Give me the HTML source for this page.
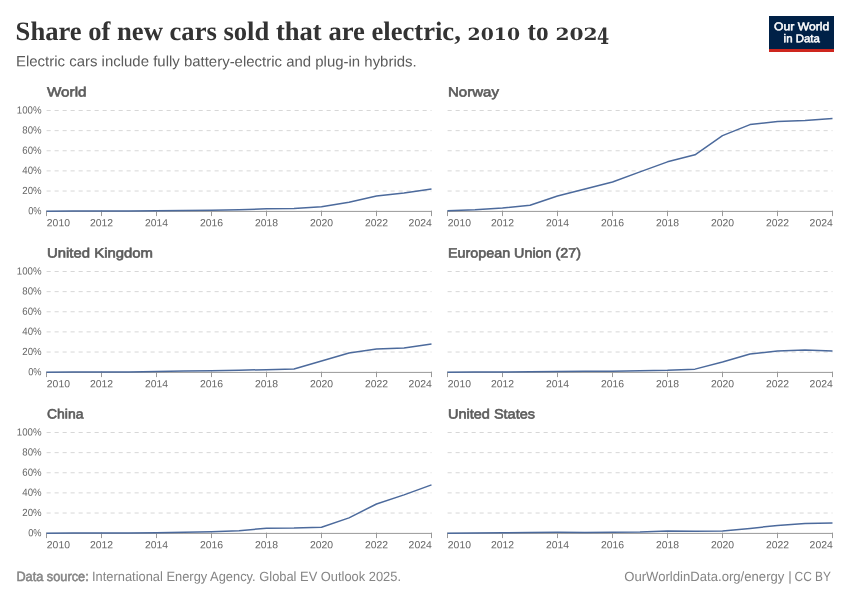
<!DOCTYPE html>
<html lang="en"><head><meta charset="utf-8"><title>Share of new cars sold that are electric, 2010 to 2024</title>
<style>html,body{margin:0;padding:0;background:#fff}svg{display:block}text{white-space:pre;text-rendering:geometricPrecision}</style></head><body>
<svg width="850" height="600" viewBox="0 0 850 600" font-family="'Liberation Sans', 'DejaVu Sans', sans-serif">
<rect width="850" height="600" fill="#fff"/>
<text y="40" fill="#333" font-family="'Liberation Serif', 'DejaVu Serif', serif" font-weight="700" font-size="26.6"><tspan x="15.6" textLength="445.2" lengthAdjust="spacingAndGlyphs">Share of new cars sold that are electric,</tspan> <tspan x="467.6" font-family="'DejaVu Serif', serif" font-size="16.9" textLength="52.4" lengthAdjust="spacingAndGlyphs">2010</tspan> <tspan x="527.5" textLength="21" lengthAdjust="spacingAndGlyphs">to</tspan> <tspan x="555.4" font-family="'DejaVu Serif', serif" font-size="16.9" textLength="42.2" lengthAdjust="spacingAndGlyphs">202</tspan><tspan x="597" y="44" font-family="'DejaVu Serif', serif" font-size="22.4" textLength="12.2" lengthAdjust="spacingAndGlyphs">4</tspan></text>
<text x="16.00" y="66.40" transform="matrix(1 0.0007 0 1 0 -0.1512)" font-size="14.8" fill="#5b5b5b" textLength="400.7" lengthAdjust="spacingAndGlyphs">Electric cars include fully battery-electric and plug-in hybrids.</text>
<rect x="769" y="16" width="65" height="36" fill="#002147"/><rect x="769" y="49" width="65" height="3" fill="#ce261e"/>
<text x="801.60" y="30.25" transform="matrix(1 0.0007 0 1 0 -0.5611)" font-size="11.3" fill="#fff" text-anchor="middle" textLength="55.2" lengthAdjust="spacingAndGlyphs" stroke="#fff" stroke-width="0.5">Our World</text>
<text x="801.70" y="42.25" transform="matrix(1 0.0007 0 1 0 -0.5612)" font-size="11.3" fill="#fff" text-anchor="middle" textLength="36.2" lengthAdjust="spacingAndGlyphs" stroke="#fff" stroke-width="0.5">in Data</text>
<text x="47.00" y="96.40" transform="matrix(1 0.0007 0 1 0 -0.0329)" font-size="13.5" fill="#5b5b5b" textLength="39.5" lengthAdjust="spacingAndGlyphs" stroke="#5b5b5b" stroke-width="0.6">World</text>
<line x1="46.6" x2="431.5" y1="191.02" y2="191.02" stroke="#d7d7d7" stroke-dasharray="4.1,3.9"/>
<text x="41.60" y="194.02" transform="matrix(1 0.0007 0 1 0 -0.0291)" font-size="10.3" fill="#666" text-anchor="end" textLength="19.3" lengthAdjust="spacingAndGlyphs">20%</text>
<line x1="46.6" x2="431.5" y1="170.89" y2="170.89" stroke="#d7d7d7" stroke-dasharray="4.1,3.9"/>
<text x="41.60" y="173.89" transform="matrix(1 0.0007 0 1 0 -0.0291)" font-size="10.3" fill="#666" text-anchor="end" textLength="19.3" lengthAdjust="spacingAndGlyphs">40%</text>
<line x1="46.6" x2="431.5" y1="150.76" y2="150.76" stroke="#d7d7d7" stroke-dasharray="4.1,3.9"/>
<text x="41.60" y="153.76" transform="matrix(1 0.0007 0 1 0 -0.0291)" font-size="10.3" fill="#666" text-anchor="end" textLength="19.3" lengthAdjust="spacingAndGlyphs">60%</text>
<line x1="46.6" x2="431.5" y1="130.63" y2="130.63" stroke="#d7d7d7" stroke-dasharray="4.1,3.9"/>
<text x="41.60" y="133.63" transform="matrix(1 0.0007 0 1 0 -0.0291)" font-size="10.3" fill="#666" text-anchor="end" textLength="19.3" lengthAdjust="spacingAndGlyphs">80%</text>
<line x1="46.6" x2="431.5" y1="110.50" y2="110.50" stroke="#d7d7d7" stroke-dasharray="4.1,3.9"/>
<text x="41.60" y="113.50" transform="matrix(1 0.0007 0 1 0 -0.0291)" font-size="10.3" fill="#666" text-anchor="end" textLength="24.8" lengthAdjust="spacingAndGlyphs">100%</text>
<text x="41.60" y="214.15" transform="matrix(1 0.0007 0 1 0 -0.0291)" font-size="10.3" fill="#666" text-anchor="end" textLength="13.4" lengthAdjust="spacingAndGlyphs">0%</text>
<line x1="46.0" x2="432.0" y1="211.40" y2="211.40" stroke="#999"/>
<line x1="46.50" x2="46.50" y1="210.70" y2="216.10" stroke="#999"/>
<text x="46.80" y="226.25" transform="matrix(1 0.0007 0 1 0 -0.0328)" font-size="10.3" fill="#666" textLength="23.2" lengthAdjust="spacingAndGlyphs">2010</text>
<line x1="101.50" x2="101.50" y1="210.70" y2="216.10" stroke="#999"/>
<text x="101.50" y="226.25" transform="matrix(1 0.0007 0 1 0 -0.0711)" font-size="10.3" fill="#666" text-anchor="middle" textLength="23.2" lengthAdjust="spacingAndGlyphs">2012</text>
<line x1="156.50" x2="156.50" y1="210.70" y2="216.10" stroke="#999"/>
<text x="156.50" y="226.25" transform="matrix(1 0.0007 0 1 0 -0.1095)" font-size="10.3" fill="#666" text-anchor="middle" textLength="23.2" lengthAdjust="spacingAndGlyphs">2014</text>
<line x1="211.50" x2="211.50" y1="210.70" y2="216.10" stroke="#999"/>
<text x="211.50" y="226.25" transform="matrix(1 0.0007 0 1 0 -0.1480)" font-size="10.3" fill="#666" text-anchor="middle" textLength="23.2" lengthAdjust="spacingAndGlyphs">2016</text>
<line x1="266.50" x2="266.50" y1="210.70" y2="216.10" stroke="#999"/>
<text x="266.50" y="226.25" transform="matrix(1 0.0007 0 1 0 -0.1865)" font-size="10.3" fill="#666" text-anchor="middle" textLength="23.2" lengthAdjust="spacingAndGlyphs">2018</text>
<line x1="321.50" x2="321.50" y1="210.70" y2="216.10" stroke="#999"/>
<text x="321.50" y="226.25" transform="matrix(1 0.0007 0 1 0 -0.2251)" font-size="10.3" fill="#666" text-anchor="middle" textLength="23.2" lengthAdjust="spacingAndGlyphs">2020</text>
<line x1="376.50" x2="376.50" y1="210.70" y2="216.10" stroke="#999"/>
<text x="376.50" y="226.25" transform="matrix(1 0.0007 0 1 0 -0.2636)" font-size="10.3" fill="#666" text-anchor="middle" textLength="23.2" lengthAdjust="spacingAndGlyphs">2022</text>
<line x1="431.50" x2="431.50" y1="210.70" y2="216.10" stroke="#999"/>
<text x="431.80" y="226.25" transform="matrix(1 0.0007 0 1 0 -0.3023)" font-size="10.3" fill="#666" text-anchor="end" textLength="23.2" lengthAdjust="spacingAndGlyphs">2024</text>
<polyline points="46.50,211.14 74.00,211.08 101.50,210.98 129.00,210.90 156.50,210.75 184.00,210.45 211.50,210.24 239.00,209.74 266.50,208.84 294.00,208.53 321.50,206.82 349.00,202.19 376.50,196.05 404.00,193.03 431.50,189.01" fill="none" stroke="#4c6a9c" stroke-width="1.5" stroke-linejoin="round"/>
<text x="448.00" y="96.40" transform="matrix(1 0.0007 0 1 0 -0.3136)" font-size="13.5" fill="#5b5b5b" textLength="51" lengthAdjust="spacingAndGlyphs" stroke="#5b5b5b" stroke-width="0.6">Norway</text>
<line x1="447.6" x2="832.5" y1="191.02" y2="191.02" stroke="#d7d7d7" stroke-dasharray="4.1,3.9"/>
<line x1="447.6" x2="832.5" y1="170.89" y2="170.89" stroke="#d7d7d7" stroke-dasharray="4.1,3.9"/>
<line x1="447.6" x2="832.5" y1="150.76" y2="150.76" stroke="#d7d7d7" stroke-dasharray="4.1,3.9"/>
<line x1="447.6" x2="832.5" y1="130.63" y2="130.63" stroke="#d7d7d7" stroke-dasharray="4.1,3.9"/>
<line x1="447.6" x2="832.5" y1="110.50" y2="110.50" stroke="#d7d7d7" stroke-dasharray="4.1,3.9"/>
<line x1="447.0" x2="833.0" y1="211.40" y2="211.40" stroke="#999"/>
<line x1="447.50" x2="447.50" y1="210.70" y2="216.10" stroke="#999"/>
<text x="447.80" y="226.25" transform="matrix(1 0.0007 0 1 0 -0.3135)" font-size="10.3" fill="#666" textLength="23.2" lengthAdjust="spacingAndGlyphs">2010</text>
<line x1="502.50" x2="502.50" y1="210.70" y2="216.10" stroke="#999"/>
<text x="502.50" y="226.25" transform="matrix(1 0.0007 0 1 0 -0.3518)" font-size="10.3" fill="#666" text-anchor="middle" textLength="23.2" lengthAdjust="spacingAndGlyphs">2012</text>
<line x1="557.50" x2="557.50" y1="210.70" y2="216.10" stroke="#999"/>
<text x="557.50" y="226.25" transform="matrix(1 0.0007 0 1 0 -0.3902)" font-size="10.3" fill="#666" text-anchor="middle" textLength="23.2" lengthAdjust="spacingAndGlyphs">2014</text>
<line x1="612.50" x2="612.50" y1="210.70" y2="216.10" stroke="#999"/>
<text x="612.50" y="226.25" transform="matrix(1 0.0007 0 1 0 -0.4288)" font-size="10.3" fill="#666" text-anchor="middle" textLength="23.2" lengthAdjust="spacingAndGlyphs">2016</text>
<line x1="667.50" x2="667.50" y1="210.70" y2="216.10" stroke="#999"/>
<text x="667.50" y="226.25" transform="matrix(1 0.0007 0 1 0 -0.4672)" font-size="10.3" fill="#666" text-anchor="middle" textLength="23.2" lengthAdjust="spacingAndGlyphs">2018</text>
<line x1="722.50" x2="722.50" y1="210.70" y2="216.10" stroke="#999"/>
<text x="722.50" y="226.25" transform="matrix(1 0.0007 0 1 0 -0.5058)" font-size="10.3" fill="#666" text-anchor="middle" textLength="23.2" lengthAdjust="spacingAndGlyphs">2020</text>
<line x1="777.50" x2="777.50" y1="210.70" y2="216.10" stroke="#999"/>
<text x="777.50" y="226.25" transform="matrix(1 0.0007 0 1 0 -0.5443)" font-size="10.3" fill="#666" text-anchor="middle" textLength="23.2" lengthAdjust="spacingAndGlyphs">2022</text>
<line x1="832.50" x2="832.50" y1="210.70" y2="216.10" stroke="#999"/>
<text x="832.80" y="226.25" transform="matrix(1 0.0007 0 1 0 -0.5830)" font-size="10.3" fill="#666" text-anchor="end" textLength="23.2" lengthAdjust="spacingAndGlyphs">2024</text>
<polyline points="447.50,210.85 475.00,209.74 502.50,207.93 530.00,205.31 557.50,196.05 585.00,189.01 612.50,181.96 640.00,171.90 667.50,161.83 695.00,154.79 722.50,135.66 750.00,124.59 777.50,121.57 805.00,120.57 832.50,118.55" fill="none" stroke="#4c6a9c" stroke-width="1.5" stroke-linejoin="round"/>
<text x="47.00" y="257.40" transform="matrix(1 0.0007 0 1 0 -0.0329)" font-size="13.5" fill="#5b5b5b" textLength="106" lengthAdjust="spacingAndGlyphs" stroke="#5b5b5b" stroke-width="0.6">United Kingdom</text>
<line x1="46.6" x2="431.5" y1="352.02" y2="352.02" stroke="#d7d7d7" stroke-dasharray="4.1,3.9"/>
<text x="41.60" y="355.02" transform="matrix(1 0.0007 0 1 0 -0.0291)" font-size="10.3" fill="#666" text-anchor="end" textLength="19.3" lengthAdjust="spacingAndGlyphs">20%</text>
<line x1="46.6" x2="431.5" y1="331.89" y2="331.89" stroke="#d7d7d7" stroke-dasharray="4.1,3.9"/>
<text x="41.60" y="334.89" transform="matrix(1 0.0007 0 1 0 -0.0291)" font-size="10.3" fill="#666" text-anchor="end" textLength="19.3" lengthAdjust="spacingAndGlyphs">40%</text>
<line x1="46.6" x2="431.5" y1="311.76" y2="311.76" stroke="#d7d7d7" stroke-dasharray="4.1,3.9"/>
<text x="41.60" y="314.76" transform="matrix(1 0.0007 0 1 0 -0.0291)" font-size="10.3" fill="#666" text-anchor="end" textLength="19.3" lengthAdjust="spacingAndGlyphs">60%</text>
<line x1="46.6" x2="431.5" y1="291.63" y2="291.63" stroke="#d7d7d7" stroke-dasharray="4.1,3.9"/>
<text x="41.60" y="294.63" transform="matrix(1 0.0007 0 1 0 -0.0291)" font-size="10.3" fill="#666" text-anchor="end" textLength="19.3" lengthAdjust="spacingAndGlyphs">80%</text>
<line x1="46.6" x2="431.5" y1="271.50" y2="271.50" stroke="#d7d7d7" stroke-dasharray="4.1,3.9"/>
<text x="41.60" y="274.50" transform="matrix(1 0.0007 0 1 0 -0.0291)" font-size="10.3" fill="#666" text-anchor="end" textLength="24.8" lengthAdjust="spacingAndGlyphs">100%</text>
<text x="41.60" y="375.15" transform="matrix(1 0.0007 0 1 0 -0.0291)" font-size="10.3" fill="#666" text-anchor="end" textLength="13.4" lengthAdjust="spacingAndGlyphs">0%</text>
<line x1="46.0" x2="432.0" y1="372.40" y2="372.40" stroke="#999"/>
<line x1="46.50" x2="46.50" y1="371.70" y2="377.10" stroke="#999"/>
<text x="46.80" y="387.25" transform="matrix(1 0.0007 0 1 0 -0.0328)" font-size="10.3" fill="#666" textLength="23.2" lengthAdjust="spacingAndGlyphs">2010</text>
<line x1="101.50" x2="101.50" y1="371.70" y2="377.10" stroke="#999"/>
<text x="101.50" y="387.25" transform="matrix(1 0.0007 0 1 0 -0.0711)" font-size="10.3" fill="#666" text-anchor="middle" textLength="23.2" lengthAdjust="spacingAndGlyphs">2012</text>
<line x1="156.50" x2="156.50" y1="371.70" y2="377.10" stroke="#999"/>
<text x="156.50" y="387.25" transform="matrix(1 0.0007 0 1 0 -0.1095)" font-size="10.3" fill="#666" text-anchor="middle" textLength="23.2" lengthAdjust="spacingAndGlyphs">2014</text>
<line x1="211.50" x2="211.50" y1="371.70" y2="377.10" stroke="#999"/>
<text x="211.50" y="387.25" transform="matrix(1 0.0007 0 1 0 -0.1480)" font-size="10.3" fill="#666" text-anchor="middle" textLength="23.2" lengthAdjust="spacingAndGlyphs">2016</text>
<line x1="266.50" x2="266.50" y1="371.70" y2="377.10" stroke="#999"/>
<text x="266.50" y="387.25" transform="matrix(1 0.0007 0 1 0 -0.1865)" font-size="10.3" fill="#666" text-anchor="middle" textLength="23.2" lengthAdjust="spacingAndGlyphs">2018</text>
<line x1="321.50" x2="321.50" y1="371.70" y2="377.10" stroke="#999"/>
<text x="321.50" y="387.25" transform="matrix(1 0.0007 0 1 0 -0.2251)" font-size="10.3" fill="#666" text-anchor="middle" textLength="23.2" lengthAdjust="spacingAndGlyphs">2020</text>
<line x1="376.50" x2="376.50" y1="371.70" y2="377.10" stroke="#999"/>
<text x="376.50" y="387.25" transform="matrix(1 0.0007 0 1 0 -0.2636)" font-size="10.3" fill="#666" text-anchor="middle" textLength="23.2" lengthAdjust="spacingAndGlyphs">2022</text>
<line x1="431.50" x2="431.50" y1="371.70" y2="377.10" stroke="#999"/>
<text x="431.80" y="387.25" transform="matrix(1 0.0007 0 1 0 -0.3023)" font-size="10.3" fill="#666" text-anchor="end" textLength="23.2" lengthAdjust="spacingAndGlyphs">2024</text>
<polyline points="46.50,372.14 74.00,372.08 101.50,372.05 129.00,371.95 156.50,371.55 184.00,371.04 211.50,370.74 239.00,370.24 266.50,369.63 294.00,369.03 321.50,361.08 349.00,353.03 376.50,349.00 404.00,347.99 431.50,343.97" fill="none" stroke="#4c6a9c" stroke-width="1.5" stroke-linejoin="round"/>
<text x="448.00" y="257.40" transform="matrix(1 0.0007 0 1 0 -0.3136)" font-size="13.5" fill="#5b5b5b" textLength="133" lengthAdjust="spacingAndGlyphs" stroke="#5b5b5b" stroke-width="0.6">European Union (27)</text>
<line x1="447.6" x2="832.5" y1="352.02" y2="352.02" stroke="#d7d7d7" stroke-dasharray="4.1,3.9"/>
<line x1="447.6" x2="832.5" y1="331.89" y2="331.89" stroke="#d7d7d7" stroke-dasharray="4.1,3.9"/>
<line x1="447.6" x2="832.5" y1="311.76" y2="311.76" stroke="#d7d7d7" stroke-dasharray="4.1,3.9"/>
<line x1="447.6" x2="832.5" y1="291.63" y2="291.63" stroke="#d7d7d7" stroke-dasharray="4.1,3.9"/>
<line x1="447.6" x2="832.5" y1="271.50" y2="271.50" stroke="#d7d7d7" stroke-dasharray="4.1,3.9"/>
<line x1="447.0" x2="833.0" y1="372.40" y2="372.40" stroke="#999"/>
<line x1="447.50" x2="447.50" y1="371.70" y2="377.10" stroke="#999"/>
<text x="447.80" y="387.25" transform="matrix(1 0.0007 0 1 0 -0.3135)" font-size="10.3" fill="#666" textLength="23.2" lengthAdjust="spacingAndGlyphs">2010</text>
<line x1="502.50" x2="502.50" y1="371.70" y2="377.10" stroke="#999"/>
<text x="502.50" y="387.25" transform="matrix(1 0.0007 0 1 0 -0.3518)" font-size="10.3" fill="#666" text-anchor="middle" textLength="23.2" lengthAdjust="spacingAndGlyphs">2012</text>
<line x1="557.50" x2="557.50" y1="371.70" y2="377.10" stroke="#999"/>
<text x="557.50" y="387.25" transform="matrix(1 0.0007 0 1 0 -0.3902)" font-size="10.3" fill="#666" text-anchor="middle" textLength="23.2" lengthAdjust="spacingAndGlyphs">2014</text>
<line x1="612.50" x2="612.50" y1="371.70" y2="377.10" stroke="#999"/>
<text x="612.50" y="387.25" transform="matrix(1 0.0007 0 1 0 -0.4288)" font-size="10.3" fill="#666" text-anchor="middle" textLength="23.2" lengthAdjust="spacingAndGlyphs">2016</text>
<line x1="667.50" x2="667.50" y1="371.70" y2="377.10" stroke="#999"/>
<text x="667.50" y="387.25" transform="matrix(1 0.0007 0 1 0 -0.4672)" font-size="10.3" fill="#666" text-anchor="middle" textLength="23.2" lengthAdjust="spacingAndGlyphs">2018</text>
<line x1="722.50" x2="722.50" y1="371.70" y2="377.10" stroke="#999"/>
<text x="722.50" y="387.25" transform="matrix(1 0.0007 0 1 0 -0.5058)" font-size="10.3" fill="#666" text-anchor="middle" textLength="23.2" lengthAdjust="spacingAndGlyphs">2020</text>
<line x1="777.50" x2="777.50" y1="371.70" y2="377.10" stroke="#999"/>
<text x="777.50" y="387.25" transform="matrix(1 0.0007 0 1 0 -0.5443)" font-size="10.3" fill="#666" text-anchor="middle" textLength="23.2" lengthAdjust="spacingAndGlyphs">2022</text>
<line x1="832.50" x2="832.50" y1="371.70" y2="377.10" stroke="#999"/>
<text x="832.80" y="387.25" transform="matrix(1 0.0007 0 1 0 -0.5830)" font-size="10.3" fill="#666" text-anchor="end" textLength="23.2" lengthAdjust="spacingAndGlyphs">2024</text>
<polyline points="447.50,372.15 475.00,372.05 502.50,371.95 530.00,371.75 557.50,371.55 585.00,371.14 612.50,371.14 640.00,370.74 667.50,370.24 695.00,369.13 722.50,362.08 750.00,354.03 777.50,351.01 805.00,350.01 832.50,351.01" fill="none" stroke="#4c6a9c" stroke-width="1.5" stroke-linejoin="round"/>
<text x="47.00" y="418.40" transform="matrix(1 0.0007 0 1 0 -0.0329)" font-size="13.5" fill="#5b5b5b" textLength="36.5" lengthAdjust="spacingAndGlyphs" stroke="#5b5b5b" stroke-width="0.6">China</text>
<line x1="46.6" x2="431.5" y1="513.02" y2="513.02" stroke="#d7d7d7" stroke-dasharray="4.1,3.9"/>
<text x="41.60" y="516.02" transform="matrix(1 0.0007 0 1 0 -0.0291)" font-size="10.3" fill="#666" text-anchor="end" textLength="19.3" lengthAdjust="spacingAndGlyphs">20%</text>
<line x1="46.6" x2="431.5" y1="492.89" y2="492.89" stroke="#d7d7d7" stroke-dasharray="4.1,3.9"/>
<text x="41.60" y="495.89" transform="matrix(1 0.0007 0 1 0 -0.0291)" font-size="10.3" fill="#666" text-anchor="end" textLength="19.3" lengthAdjust="spacingAndGlyphs">40%</text>
<line x1="46.6" x2="431.5" y1="472.76" y2="472.76" stroke="#d7d7d7" stroke-dasharray="4.1,3.9"/>
<text x="41.60" y="475.76" transform="matrix(1 0.0007 0 1 0 -0.0291)" font-size="10.3" fill="#666" text-anchor="end" textLength="19.3" lengthAdjust="spacingAndGlyphs">60%</text>
<line x1="46.6" x2="431.5" y1="452.63" y2="452.63" stroke="#d7d7d7" stroke-dasharray="4.1,3.9"/>
<text x="41.60" y="455.63" transform="matrix(1 0.0007 0 1 0 -0.0291)" font-size="10.3" fill="#666" text-anchor="end" textLength="19.3" lengthAdjust="spacingAndGlyphs">80%</text>
<line x1="46.6" x2="431.5" y1="432.50" y2="432.50" stroke="#d7d7d7" stroke-dasharray="4.1,3.9"/>
<text x="41.60" y="435.50" transform="matrix(1 0.0007 0 1 0 -0.0291)" font-size="10.3" fill="#666" text-anchor="end" textLength="24.8" lengthAdjust="spacingAndGlyphs">100%</text>
<text x="41.60" y="536.15" transform="matrix(1 0.0007 0 1 0 -0.0291)" font-size="10.3" fill="#666" text-anchor="end" textLength="13.4" lengthAdjust="spacingAndGlyphs">0%</text>
<line x1="46.0" x2="432.0" y1="533.40" y2="533.40" stroke="#999"/>
<line x1="46.50" x2="46.50" y1="532.70" y2="538.10" stroke="#999"/>
<text x="46.80" y="548.25" transform="matrix(1 0.0007 0 1 0 -0.0328)" font-size="10.3" fill="#666" textLength="23.2" lengthAdjust="spacingAndGlyphs">2010</text>
<line x1="101.50" x2="101.50" y1="532.70" y2="538.10" stroke="#999"/>
<text x="101.50" y="548.25" transform="matrix(1 0.0007 0 1 0 -0.0711)" font-size="10.3" fill="#666" text-anchor="middle" textLength="23.2" lengthAdjust="spacingAndGlyphs">2012</text>
<line x1="156.50" x2="156.50" y1="532.70" y2="538.10" stroke="#999"/>
<text x="156.50" y="548.25" transform="matrix(1 0.0007 0 1 0 -0.1095)" font-size="10.3" fill="#666" text-anchor="middle" textLength="23.2" lengthAdjust="spacingAndGlyphs">2014</text>
<line x1="211.50" x2="211.50" y1="532.70" y2="538.10" stroke="#999"/>
<text x="211.50" y="548.25" transform="matrix(1 0.0007 0 1 0 -0.1480)" font-size="10.3" fill="#666" text-anchor="middle" textLength="23.2" lengthAdjust="spacingAndGlyphs">2016</text>
<line x1="266.50" x2="266.50" y1="532.70" y2="538.10" stroke="#999"/>
<text x="266.50" y="548.25" transform="matrix(1 0.0007 0 1 0 -0.1865)" font-size="10.3" fill="#666" text-anchor="middle" textLength="23.2" lengthAdjust="spacingAndGlyphs">2018</text>
<line x1="321.50" x2="321.50" y1="532.70" y2="538.10" stroke="#999"/>
<text x="321.50" y="548.25" transform="matrix(1 0.0007 0 1 0 -0.2251)" font-size="10.3" fill="#666" text-anchor="middle" textLength="23.2" lengthAdjust="spacingAndGlyphs">2020</text>
<line x1="376.50" x2="376.50" y1="532.70" y2="538.10" stroke="#999"/>
<text x="376.50" y="548.25" transform="matrix(1 0.0007 0 1 0 -0.2636)" font-size="10.3" fill="#666" text-anchor="middle" textLength="23.2" lengthAdjust="spacingAndGlyphs">2022</text>
<line x1="431.50" x2="431.50" y1="532.70" y2="538.10" stroke="#999"/>
<text x="431.80" y="548.25" transform="matrix(1 0.0007 0 1 0 -0.3023)" font-size="10.3" fill="#666" text-anchor="end" textLength="23.2" lengthAdjust="spacingAndGlyphs">2024</text>
<polyline points="46.50,533.14 74.00,533.11 101.50,533.07 129.00,533.05 156.50,532.75 184.00,532.14 211.50,531.64 239.00,530.73 266.50,528.22 294.00,528.12 321.50,527.31 349.00,517.85 376.50,503.96 404.00,494.90 431.50,484.84" fill="none" stroke="#4c6a9c" stroke-width="1.5" stroke-linejoin="round"/>
<text x="448.00" y="418.40" transform="matrix(1 0.0007 0 1 0 -0.3136)" font-size="13.5" fill="#5b5b5b" textLength="87" lengthAdjust="spacingAndGlyphs" stroke="#5b5b5b" stroke-width="0.6">United States</text>
<line x1="447.6" x2="832.5" y1="513.02" y2="513.02" stroke="#d7d7d7" stroke-dasharray="4.1,3.9"/>
<line x1="447.6" x2="832.5" y1="492.89" y2="492.89" stroke="#d7d7d7" stroke-dasharray="4.1,3.9"/>
<line x1="447.6" x2="832.5" y1="472.76" y2="472.76" stroke="#d7d7d7" stroke-dasharray="4.1,3.9"/>
<line x1="447.6" x2="832.5" y1="452.63" y2="452.63" stroke="#d7d7d7" stroke-dasharray="4.1,3.9"/>
<line x1="447.6" x2="832.5" y1="432.50" y2="432.50" stroke="#d7d7d7" stroke-dasharray="4.1,3.9"/>
<line x1="447.0" x2="833.0" y1="533.40" y2="533.40" stroke="#999"/>
<line x1="447.50" x2="447.50" y1="532.70" y2="538.10" stroke="#999"/>
<text x="447.80" y="548.25" transform="matrix(1 0.0007 0 1 0 -0.3135)" font-size="10.3" fill="#666" textLength="23.2" lengthAdjust="spacingAndGlyphs">2010</text>
<line x1="502.50" x2="502.50" y1="532.70" y2="538.10" stroke="#999"/>
<text x="502.50" y="548.25" transform="matrix(1 0.0007 0 1 0 -0.3518)" font-size="10.3" fill="#666" text-anchor="middle" textLength="23.2" lengthAdjust="spacingAndGlyphs">2012</text>
<line x1="557.50" x2="557.50" y1="532.70" y2="538.10" stroke="#999"/>
<text x="557.50" y="548.25" transform="matrix(1 0.0007 0 1 0 -0.3902)" font-size="10.3" fill="#666" text-anchor="middle" textLength="23.2" lengthAdjust="spacingAndGlyphs">2014</text>
<line x1="612.50" x2="612.50" y1="532.70" y2="538.10" stroke="#999"/>
<text x="612.50" y="548.25" transform="matrix(1 0.0007 0 1 0 -0.4288)" font-size="10.3" fill="#666" text-anchor="middle" textLength="23.2" lengthAdjust="spacingAndGlyphs">2016</text>
<line x1="667.50" x2="667.50" y1="532.70" y2="538.10" stroke="#999"/>
<text x="667.50" y="548.25" transform="matrix(1 0.0007 0 1 0 -0.4672)" font-size="10.3" fill="#666" text-anchor="middle" textLength="23.2" lengthAdjust="spacingAndGlyphs">2018</text>
<line x1="722.50" x2="722.50" y1="532.70" y2="538.10" stroke="#999"/>
<text x="722.50" y="548.25" transform="matrix(1 0.0007 0 1 0 -0.5058)" font-size="10.3" fill="#666" text-anchor="middle" textLength="23.2" lengthAdjust="spacingAndGlyphs">2020</text>
<line x1="777.50" x2="777.50" y1="532.70" y2="538.10" stroke="#999"/>
<text x="777.50" y="548.25" transform="matrix(1 0.0007 0 1 0 -0.5443)" font-size="10.3" fill="#666" text-anchor="middle" textLength="23.2" lengthAdjust="spacingAndGlyphs">2022</text>
<line x1="832.50" x2="832.50" y1="532.70" y2="538.10" stroke="#999"/>
<text x="832.80" y="548.25" transform="matrix(1 0.0007 0 1 0 -0.5830)" font-size="10.3" fill="#666" text-anchor="end" textLength="23.2" lengthAdjust="spacingAndGlyphs">2024</text>
<polyline points="447.50,533.14 475.00,532.95 502.50,532.75 530.00,532.45 557.50,532.34 585.00,532.45 612.50,532.24 640.00,531.94 667.50,530.94 695.00,531.14 722.50,530.94 750.00,528.42 777.50,525.40 805.00,523.59 832.50,523.09" fill="none" stroke="#4c6a9c" stroke-width="1.5" stroke-linejoin="round"/>
<text y="581" font-size="13.4" fill="#858585"><tspan x="16.4" stroke="#858585" stroke-width="0.55" textLength="72.3" lengthAdjust="spacingAndGlyphs">Data source:</tspan> <tspan x="92" textLength="309" lengthAdjust="spacingAndGlyphs">International Energy Agency. Global EV Outlook 2025.</tspan></text>
<text y="581" font-size="13.4" fill="#858585"><tspan x="624.2" textLength="160.2" lengthAdjust="spacingAndGlyphs">OurWorldinData.org/energy</tspan> <tspan x="788.2">|</tspan> <tspan x="794.6" textLength="36.4" lengthAdjust="spacingAndGlyphs">CC BY</tspan></text>
</svg></body></html>
